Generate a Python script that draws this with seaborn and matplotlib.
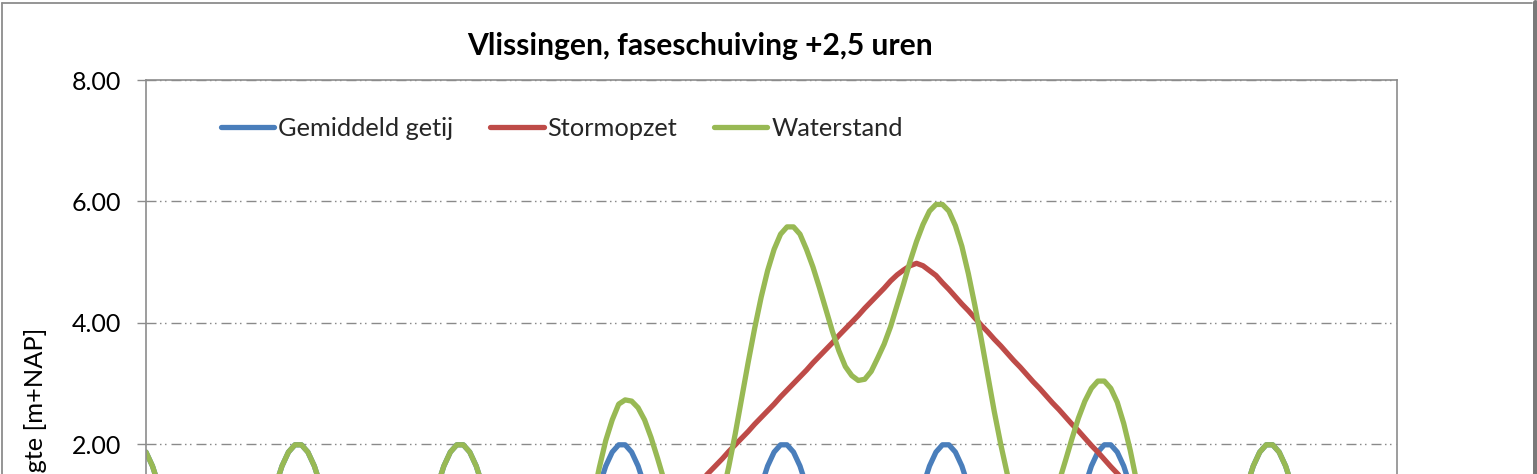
import numpy as np
import pandas as pd
import matplotlib
matplotlib.use("Agg")
import matplotlib.pyplot as plt
import seaborn as sns
from matplotlib.lines import Line2D
from matplotlib.ticker import FormatStrFormatter

# ---------------- data (half-hourly samples) ----------------
titel = "Vlissingen, faseschuiving +2,5 uren"
y_label = "Waterhoogte [m+NAP]"
reeksen = ["Gemiddeld getij", "Stormopzet", "Waterstand"]
y_ticks = [2, 4, 6, 8]
TIJDSTAP_UUR = 0.5

gemiddeld_getij = [
    1.87, 1.64, 1.31, 0.91, 0.46, -0.02, -0.49, -0.92, -1.29, -1.56, -1.74, -1.80, -1.74, -1.56, -1.29, -0.92, -0.49, -0.02, 0.46, 0.91, 1.31, 1.64, 1.87, 1.99, 1.99,
    1.87, 1.64, 1.31, 0.91, 0.46, -0.02, -0.49, -0.92, -1.29, -1.56, -1.74, -1.80, -1.74, -1.56, -1.29, -0.92, -0.49, -0.02, 0.46, 0.91, 1.31, 1.64, 1.87, 1.99, 1.99,
    1.87, 1.64, 1.31, 0.91, 0.46, -0.02, -0.49, -0.92, -1.29, -1.56, -1.74, -1.80, -1.74, -1.56, -1.29, -0.92, -0.49, -0.02, 0.46, 0.91, 1.31, 1.64, 1.87, 1.99, 1.99,
    1.87, 1.64, 1.31, 0.91, 0.46, -0.02, -0.49, -0.92, -1.29, -1.56, -1.74, -1.80, -1.74, -1.56, -1.29, -0.92, -0.49, -0.02, 0.46, 0.91, 1.31, 1.64, 1.87, 1.99, 1.99,
    1.87, 1.64, 1.31, 0.91, 0.46, -0.02, -0.49, -0.92, -1.29, -1.56, -1.74, -1.80, -1.74, -1.56, -1.29, -0.92, -0.49, -0.02, 0.46, 0.91, 1.31, 1.64, 1.87, 1.99, 1.99,
    1.87, 1.64, 1.31, 0.91, 0.46, -0.02, -0.49, -0.92, -1.29, -1.56, -1.74, -1.80, -1.74, -1.56, -1.29, -0.92, -0.49, -0.02, 0.46, 0.91, 1.31, 1.64, 1.87, 1.99, 1.99,
    1.87, 1.64, 1.31, 0.91, 0.46, -0.02, -0.49, -0.92, -1.29, -1.56, -1.74, -1.80, -1.74, -1.56, -1.29, -0.92, -0.49, -0.02, 0.46, 0.91, 1.31, 1.64, 1.87, 1.99, 1.99,
    1.87, 1.64, 1.31, 0.91, 0.46, -0.02, -0.49, -0.92, -1.29, -1.56, -1.74, -1.80, -1.74, -1.56, -1.29, -0.92, -0.49, -0.02,
]

stormopzet = [
    0.00, 0.00, 0.00, 0.00, 0.00, 0.00, 0.00, 0.00, 0.00, 0.00, 0.00, 0.00, 0.00, 0.00, 0.00, 0.00, 0.00, 0.00, 0.00, 0.00, 0.00, 0.00, 0.00, 0.00, 0.00,
    0.00, 0.00, 0.00, 0.00, 0.00, 0.00, 0.00, 0.00, 0.00, 0.00, 0.00, 0.00, 0.00, 0.00, 0.00, 0.00, 0.00, 0.00, 0.00, 0.00, 0.00, 0.00, 0.00, 0.00, 0.00,
    0.00, 0.00, 0.00, 0.00, 0.00, 0.00, 0.00, 0.00, 0.00, 0.00, 0.00, 0.00, 0.00, 0.00, 0.00, 0.00, 0.00, 0.00, 0.00, 0.00, 0.00, 0.00, 0.00, 0.00, 0.08,
    0.19, 0.30, 0.42, 0.53, 0.64, 0.75, 0.87, 0.98, 1.09, 1.20, 1.31, 1.43, 1.54, 1.65, 1.76, 1.88, 1.99, 2.10, 2.21, 2.33, 2.44, 2.55, 2.66, 2.78, 2.89,
    3.00, 3.11, 3.22, 3.34, 3.45, 3.56, 3.67, 3.79, 3.90, 4.01, 4.12, 4.24, 4.35, 4.46, 4.57, 4.69, 4.79, 4.87, 4.94, 4.98, 4.94, 4.86, 4.78, 4.66, 4.55,
    4.43, 4.31, 4.20, 4.08, 3.96, 3.85, 3.73, 3.62, 3.50, 3.38, 3.27, 3.15, 3.03, 2.92, 2.80, 2.68, 2.57, 2.45, 2.33, 2.22, 2.10, 1.98, 1.87, 1.75, 1.63,
    1.52, 1.40, 1.28, 1.17, 1.05, 0.93, 0.82, 0.70, 0.59, 0.47, 0.35, 0.24, 0.12, 0.00, 0.00, 0.00, 0.00, 0.00, 0.00, 0.00, 0.00, 0.00, 0.00, 0.00, 0.00,
    0.00, 0.00, 0.00, 0.00, 0.00, 0.00, 0.00, 0.00, 0.00, 0.00, 0.00, 0.00, 0.00, 0.00, 0.00, 0.00, 0.00, 0.00,
]

waterstand = [
    1.87, 1.64, 1.31, 0.91, 0.46, -0.02, -0.49, -0.92, -1.29, -1.56, -1.74, -1.80, -1.74, -1.56, -1.29, -0.92, -0.49, -0.02, 0.46, 0.91, 1.31, 1.64, 1.87, 1.99, 1.99,
    1.87, 1.64, 1.31, 0.91, 0.46, -0.02, -0.49, -0.92, -1.29, -1.56, -1.74, -1.80, -1.74, -1.56, -1.29, -0.92, -0.49, -0.02, 0.46, 0.91, 1.31, 1.64, 1.87, 1.99, 1.99,
    1.87, 1.64, 1.31, 0.91, 0.46, -0.02, -0.49, -0.92, -1.29, -1.56, -1.74, -1.80, -1.74, -1.56, -1.29, -0.92, -0.49, -0.02, 0.54, 1.10, 1.61, 2.06, 2.40, 2.66, 2.73,
    2.71, 2.60, 2.40, 2.11, 1.77, 1.41, 1.05, 0.73, 0.47, 0.32, 0.25, 0.30, 0.47, 0.77, 1.15, 1.63, 2.17, 2.76, 3.35, 3.91, 4.42, 4.86, 5.21, 5.46, 5.58,
    5.58, 5.46, 5.21, 4.92, 4.58, 4.22, 3.86, 3.54, 3.28, 3.13, 3.05, 3.07, 3.20, 3.42, 3.65, 3.94, 4.29, 4.64, 5.01, 5.34, 5.62, 5.84, 5.95, 5.95, 5.84,
    5.60, 5.26, 4.81, 4.29, 3.73, 3.13, 2.54, 2.00, 1.51, 1.12, 0.83, 0.65, 0.59, 0.66, 0.81, 1.06, 1.38, 1.73, 2.09, 2.43, 2.71, 2.92, 3.04, 3.04, 2.92,
    2.69, 2.34, 1.90, 1.38, 0.81, 0.22, -0.37, -0.92, -1.29, -1.56, -1.74, -1.80, -1.74, -1.56, -1.29, -0.92, -0.49, -0.02, 0.46, 0.91, 1.31, 1.64, 1.87, 1.99, 1.99,
    1.87, 1.64, 1.31, 0.91, 0.46, -0.02, -0.49, -0.92, -1.29, -1.56, -1.74, -1.80, -1.74, -1.56, -1.29, -0.92, -0.49, -0.02,
]

kleuren = {"Gemiddeld getij": "#4a7ebb", "Stormopzet": "#be4b48", "Waterstand": "#98b954"}

# ---------------- build long table ----------------
tijd = TIJDSTAP_UUR * np.arange(len(gemiddeld_getij))
df = pd.concat([
    pd.DataFrame({"tijd": tijd, "waarde": vals, "reeks": naam})
    for naam, vals in zip(reeksen, [gemiddeld_getij, stormopzet, waterstand])
], ignore_index=True)

# ---------------- figure ----------------
sns.set_theme(style="white")
plt.rcParams["font.family"] = ["Lato", "DejaVu Sans"]

W, H = 1537, 474
fig = plt.figure(figsize=(W / 100, H / 100), dpi=100, facecolor="white")
# plot area: left 146px, right 1397px, top 80px (y=8); 60.67 px per metre
ax = fig.add_axes([146 / W, (H - 687) / H, 1251 / W, 607 / H])

sns.lineplot(data=df, x="tijd", y="waarde", hue="reeks", hue_order=reeksen,
             palette=kleuren, linewidth=3.8, legend=False, ax=ax,
             estimator=None, sort=False)
for ln in ax.lines:
    ln.set_solid_capstyle("round")
    ln.set_solid_joinstyle("round")

ax.set_xlim(0, 96.6)
ax.set_ylim(-2, 8)
ax.set_yticks(y_ticks)
ax.yaxis.set_major_formatter(FormatStrFormatter("%.2f"))
ax.set_xticks([])
ax.set_xlabel("")
ax.set_ylabel("")

ax.grid(axis="y", color="#8a8a8a", linewidth=1.0,
        linestyle=(0, (7.2, 2.5, 1.1, 2.5, 1.1, 3.6)))
ax.set_axisbelow(True)
for s in ax.spines.values():
    s.set_visible(True)
    s.set_color("#8c8c8c")
    s.set_linewidth(1.2)

ax.tick_params(axis="y", left=True, length=6.5, width=1.0, color="#8c8c8c",
               pad=11.5, labelsize=18, labelcolor="black")

# legend
handles = [Line2D([], [], color=kleuren[n], linewidth=3.8, solid_capstyle="round") for n in reeksen]
ax.legend(handles, reeksen, loc="center left", bbox_to_anchor=(221 / W, 1 - 128 / H),
          bbox_transform=fig.transFigure, ncol=3, frameon=False, fontsize=18.3,
          handlelength=2.1, handletextpad=0.15, columnspacing=1.45,
          borderpad=0, borderaxespad=0)

# title and y label
fig.text(700 / W, 1 - 46 / H, titel, ha="center", va="center",
         fontsize=21.6, fontweight="bold", color="black")
fig.text(36 / W, 1 - 328 / H, y_label, rotation=90, ha="center", va="top",
         fontsize=18.3, color="black")

# outer chart frame
frame_kw = dict(transform=fig.transFigure, color="#8c8c8c", linewidth=1.3)
fig.add_artist(Line2D([2 / W, 1532 / W], [1 - 3 / H, 1 - 3 / H], **frame_kw))
fig.add_artist(Line2D([2 / W, 2 / W], [1 - 3 / H, 0], **frame_kw))
fig.add_artist(Line2D([1534.5 / W, 1534.5 / W], [1 - 2 / H, 0], transform=fig.transFigure,
                      color="#7a7a7a", linewidth=3.6))

fig.savefig("out.png", dpi=100, facecolor="white")
